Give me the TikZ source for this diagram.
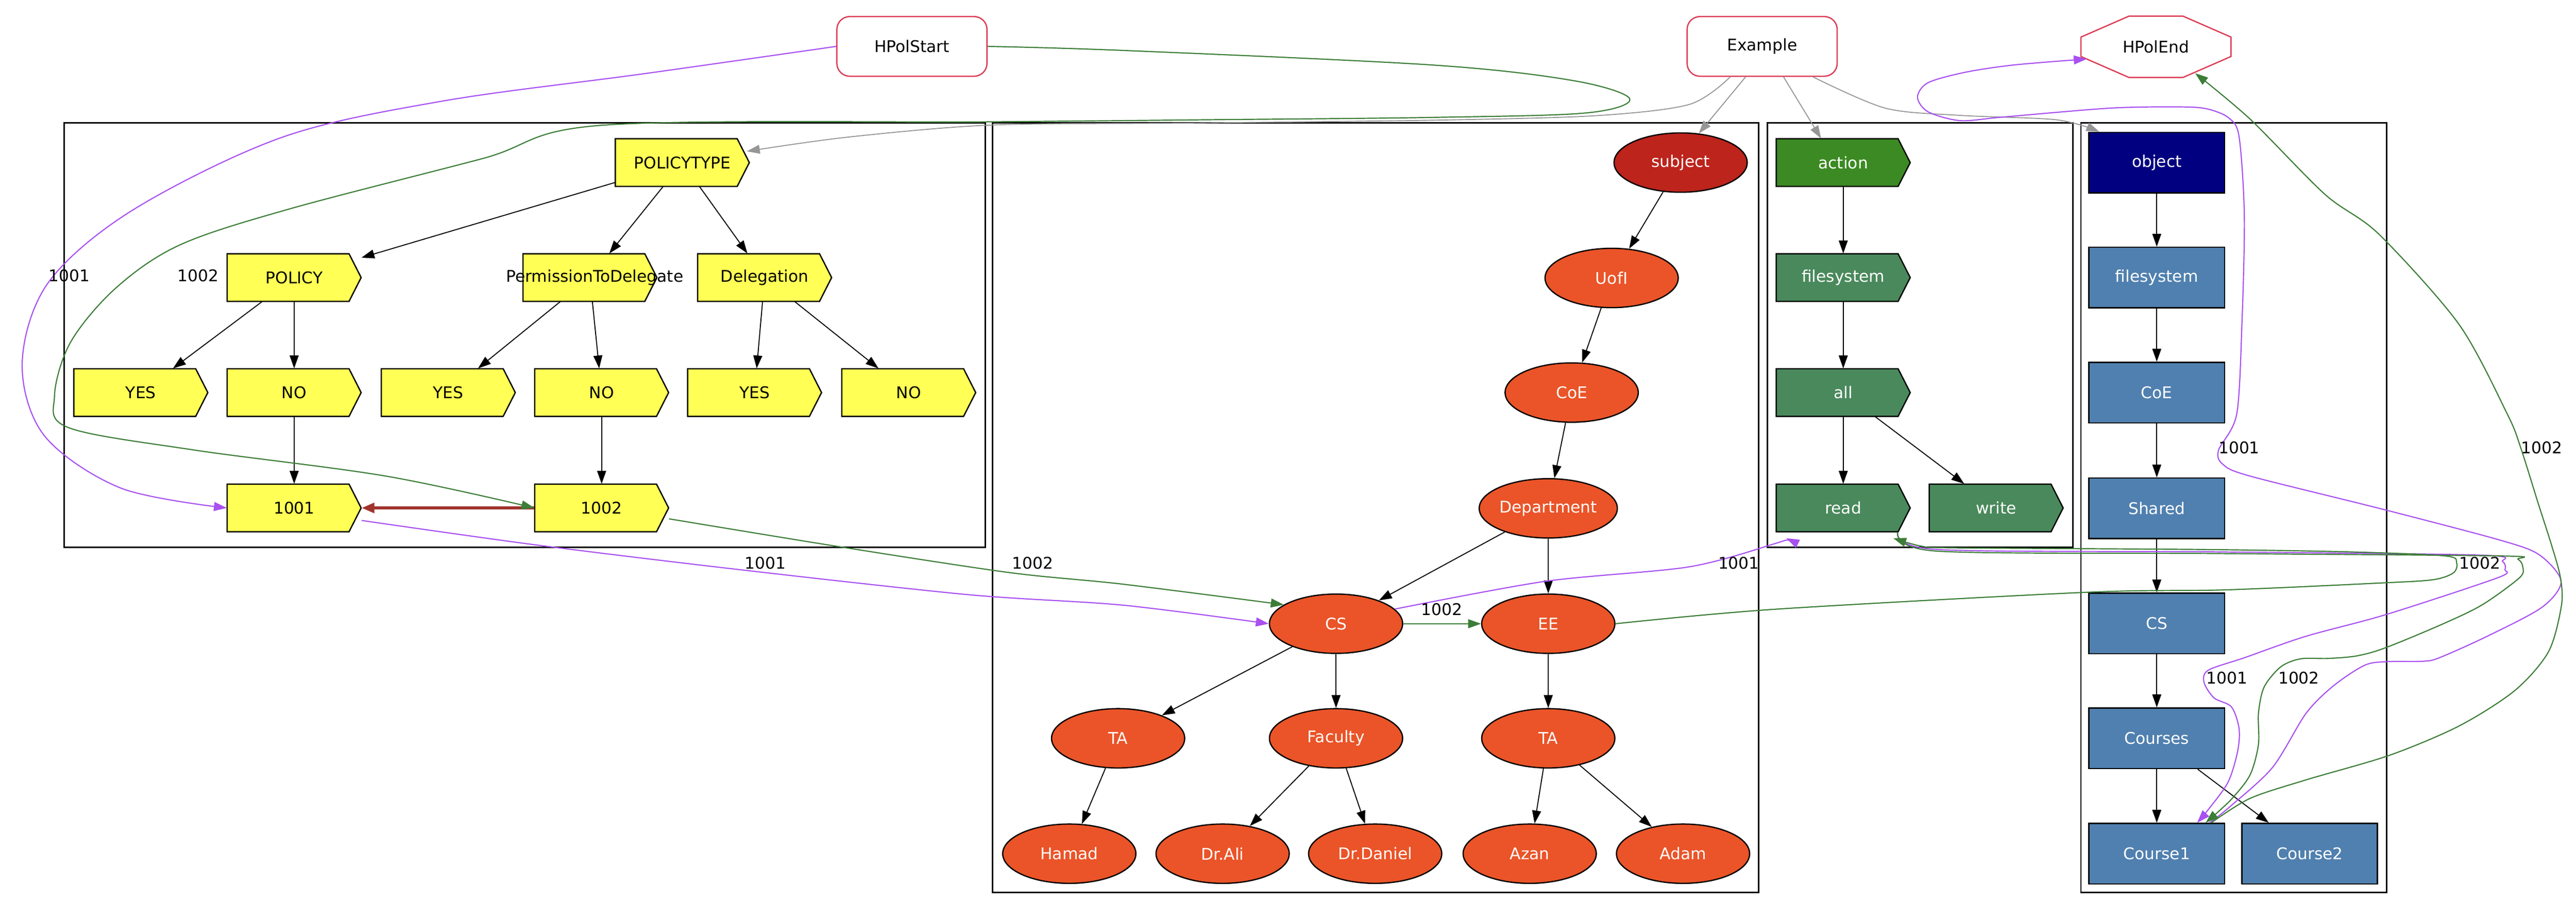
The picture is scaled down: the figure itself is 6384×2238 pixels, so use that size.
\documentclass[tikz,border=0pt]{standalone}
\usepackage{fontspec}
\setmainfont{DejaVu Sans}
\usetikzlibrary{shapes.geometric,arrows.meta}
\definecolor{ypol}{RGB}{255,255,85}
\definecolor{subj}{RGB}{188,36,28}
\definecolor{orng}{RGB}{234,84,40}
\definecolor{actg}{RGB}{60,138,35}
\definecolor{seag}{RGB}{74,137,92}
\definecolor{navyb}{RGB}{0,0,128}
\definecolor{steel}{RGB}{80,128,175}
\definecolor{pur}{RGB}{168,80,240}
\definecolor{grn}{RGB}{60,125,55}
\definecolor{brn}{RGB}{160,52,45}
\definecolor{gry}{RGB}{150,150,150}
\definecolor{crim}{RGB}{220,60,85}
\tikzset{
  cdsbox/.style={rectangle, minimum width=83pt, minimum height=29.5pt, inner sep=0pt},
  cdsline/.style={draw=black, line width=0.8pt},
  ell/.style={ellipse, minimum width=82.5pt, minimum height=36.75pt, inner sep=0pt,
    draw=black, line width=0.8pt, fill=orng, text=white},
  sell/.style={ell, fill=subj},
  bbox/.style={rectangle, minimum width=84pt, minimum height=37.5pt, inner sep=0pt,
    draw=black, line width=0.8pt, fill=steel, text=white},
  nbox/.style={bbox, fill=navyb},
  topn/.style={rectangle, rounded corners=8pt, minimum width=93pt, minimum height=37pt,
    draw=crim, line width=0.8pt, fill=white, text=black},
  endn/.style={ellipse, minimum width=93pt, minimum height=38pt, inner sep=0pt, text=black},
  clus/.style={draw=black, line width=0.9pt},
  arr/.style={draw=black, line width=0.6pt, -{Triangle[length=8pt,width=5.5pt]}},
  garr/.style={draw=gry, line width=0.6pt, -{Triangle[length=8pt,width=5.5pt]}},
  parr/.style={draw=pur, line width=0.7pt, -{Triangle[length=8pt,width=5.5pt]}},
  earr/.style={draw=grn, line width=0.7pt, -{Triangle[length=8pt,width=5.5pt]}},
  barr/.style={draw=brn, line width=2pt, -{Triangle[length=8pt,width=6pt]}},
  lbl/.style={inner sep=0pt, text=black},
}
% cds-shaped node: name, x, y, fill, text colour, text
\newcommand\cdsnode[6]{%
  \draw[cdsline, fill=#4] ({#2-166},{#3-59}) -- ({#2+136},{#3-59}) -- ({#2+166},#3)
     -- ({#2+136},{#3+59}) -- ({#2-166},{#3+59}) -- cycle;
  \node[cdsbox, text=#5] (#1) at (#2,#3) {#6};}
\begin{document}
\begin{tikzpicture}[x=0.25pt,y=-0.25pt,font=\fontsize{10}{12}\selectfont]
\useasboundingbox (0,0) rectangle (6384,2238);
% clusters
\draw[clus] (159,305) rectangle (2442,1357);
\draw[clus] (2460,305) rectangle (4358,2212);
\draw[clus] (4380,305) rectangle (5137,1357);
\draw[clus] (5157,305) rectangle (5915,2212);

% top nodes
\node[topn] (HPolStart) at (2260,115) {HPolStart};
\node[topn] (Example) at (4367,115) {Example};
\node[endn] (HPolEnd) at (5343,116) {HPolEnd};
\draw[crim, line width=0.8pt] (HPolEnd.center) ++(-67,-76) -- ++(134,0) -- ++(119,52) -- ++(0,48)
  -- ++(-119,52) -- ++(-134,0) -- ++(-119,-52) -- ++(0,-48) -- cycle;

% policy cluster
\cdsnode{ptype}{1691}{403}{ypol}{black}{POLICYTYPE}
\cdsnode{policy}{729}{688}{ypol}{black}{POLICY}
\cdsnode{ptd}{1462}{688}{ypol}{black}{\makebox[0pt]{\hspace{6pt}PermissionToDelegate}}
\cdsnode{deleg}{1895}{688}{ypol}{black}{Delegation}
\cdsnode{yes1}{349}{973}{ypol}{black}{YES}
\cdsnode{no1}{729}{973}{ypol}{black}{NO}
\cdsnode{yes2}{1111}{973}{ypol}{black}{YES}
\cdsnode{no2}{1491}{973}{ypol}{black}{NO}
\cdsnode{yes3}{1870}{973}{ypol}{black}{YES}
\cdsnode{no3}{2252}{973}{ypol}{black}{NO}
\cdsnode{p1001}{729}{1259}{ypol}{black}{1001}
\cdsnode{p1002}{1491}{1259}{ypol}{black}{1002}

% subject cluster
\node[sell] (subject) at (4165,403) {subject};
\node[ell] (uofi) at (3994,689) {UofI};
\node[ell] (scoe) at (3895,973) {CoE};
\node[ell] (dept) at (3837,1260) {Department};
\node[ell] (scs) at (3311,1546) {CS};
\node[ell] (see) at (3837,1546) {EE};
\node[ell] (ta1) at (2771,1830) {TA};
\node[ell] (fac) at (3311,1830) {Faculty};
\node[ell] (ta2) at (3837,1830) {TA};
\node[ell] (hamad) at (2650,2116) {Hamad};
\node[ell] (drali) at (3030,2116) {Dr.Ali};
\node[ell] (drdan) at (3408,2116) {Dr.Daniel};
\node[ell] (azan) at (3791,2116) {Azan};
\node[ell] (adam) at (4171,2116) {Adam};

% action cluster
\cdsnode{action}{4568}{403}{actg}{white}{action}
\cdsnode{afs}{4568}{688}{seag}{white}{filesystem}
\cdsnode{aall}{4568}{973}{seag}{white}{all}
\cdsnode{read}{4568}{1259}{seag}{white}{read}
\cdsnode{write}{4947}{1259}{seag}{white}{write}

% object cluster
\node[nbox] (object) at (5345,403) {object};
\node[bbox] (ofs) at (5345,688) {filesystem};
\node[bbox] (ocoe) at (5345,973) {CoE};
\node[bbox] (shared) at (5345,1260) {Shared};
\node[bbox] (ocs) at (5345,1545) {CS};
\node[bbox] (courses) at (5345,1830) {Courses};
\node[bbox] (course1) at (5345,2116) {Course1};
\node[bbox] (course2) at (5724,2116) {Course2};

% black tree edges
\draw[arr] (ptype) -- (policy);
\draw[arr] (ptype) -- (ptd);
\draw[arr] (ptype) -- (deleg);
\draw[arr] (policy) -- (yes1);
\draw[arr] (policy) -- (no1);
\draw[arr] (ptd) -- (yes2);
\draw[arr] (ptd) -- (no2);
\draw[arr] (deleg) -- (yes3);
\draw[arr] (deleg) -- (no3);
\draw[arr] (no1) -- (p1001);
\draw[arr] (no2) -- (p1002);
\draw[barr] (p1002.west) -- (p1001.east);

\draw[arr] (subject) -- (uofi);
\draw[arr] (uofi) -- (scoe);
\draw[arr] (scoe) -- (dept);
\draw[arr] (dept) -- (scs);
\draw[arr] (dept) -- (see);
\draw[arr] (scs) -- (ta1);
\draw[arr] (scs) -- (fac);
\draw[arr] (see) -- (ta2);
\draw[arr] (ta1) -- (hamad);
\draw[arr] (fac) -- (drali);
\draw[arr] (fac) -- (drdan);
\draw[arr] (ta2) -- (azan);
\draw[arr] (ta2) -- (adam);

\draw[arr] (action) -- (afs);
\draw[arr] (afs) -- (aall);
\draw[arr] (aall) -- (read);
\draw[arr] (aall) -- (write);

\draw[arr] (object) -- (ofs);
\draw[arr] (ofs) -- (ocoe);
\draw[arr] (ocoe) -- (shared);
\draw[arr] (shared) -- (ocs);
\draw[arr] (ocs) -- (courses);
\draw[arr] (courses) -- (course1);
\draw[arr] (courses) -- (course2);

% grey edges from Example
\draw[garr] plot[smooth, tension=0.5] coordinates {([shift={(-79,0)}]Example.south) (4186,259) (3950,287) (3548,298) (2950,305) (2455,310) (2100,340) ([shift={(160,-28)}]ptype.center)};
\draw[garr] ([shift={(-41,0)}]Example.south) -- (subject.58);
\draw[garr] ([shift={(53,0)}]Example.south) -- ([shift={(-55,0)}]action.north);
\draw[garr] plot[smooth, tension=0.5] coordinates {([shift={(126,0)}]Example.south) (4672,268) (4858,286) (5097,297) ([shift={(27,0)}]object.north west)};

% policy 1001 (purple)
\draw[parr] plot[smooth, tension=0.55] coordinates {(HPolStart.west) (1594,183) (1100,250) (700,340) (330,520) (120,700) (55,900) (110,1080) (300,1210) (p1001.west)};
\draw[parr] plot[smooth, tension=0.5] coordinates {([shift={(167,31)}]p1001.center) (1323,1350) (1833,1412) (2400,1474) (2783,1500) (scs.west)};
\draw[parr] plot[smooth, tension=0.5] coordinates {(scs.14) (3829,1441) (4186,1405) (4400,1347) ([shift={(-141,75)}]read.center)};
\draw[parr] plot[smooth, tension=0.5] coordinates {([shift={(135,60)}]read.center) (4800,1362) (5500,1368) (6150,1376) (6202,1392) (6208,1412) (6190,1432) (5914,1523) (5715,1577) (5563,1630) (5473,1661) (5462,1691) (5487,1730) (5530,1752) (5549,1806) (5545,1864) (5521,1940) (5470,2010) ([shift={(100,0)}]course1.north)};
\draw[parr] plot[smooth, tension=0.5] coordinates {([shift={(131,0)}]course1.north) (5528,1998) (5632,1902) (5715,1768) (5784,1699) (5860,1649) (5915,1640) (6005,1639) (6046,1630) (6164,1577) (6300,1505) (6347,1441) (6294,1376) (6200,1340) (5908,1263) (5576,1180) (5509,1151) (5498,1116) (5543,1027) (5556,804) (5562,536) (5549,339) (5523,292) (5470,270) (5403,265) (5230,268) (4965,290) (4858,299) (4778,277) (4752,241) (4778,205) (4871,179) (4991,161) (HPolEnd.190)};

% policy 1002 (green)
\draw[earr] plot[smooth, tension=0.55] coordinates {(HPolStart.east) (2783,125) (3548,161) (3900,200) (4039,245) (3930,280) (3548,291) (2974,297) (2455,302) (1498,310) (1196,393) (717,518) (446,607) (287,714) (175,848) (135,982) (170,1060) (478,1115) (956,1180) (p1002.west)};
\draw[earr] plot[smooth, tension=0.5] coordinates {([shift={(167,27)}]p1002.center) (2073,1354) (2500,1419) (2783,1448) (scs.160)};
\draw[earr] (scs.east) -- (see.west);
\draw[earr] plot[smooth, tension=0.5] coordinates {(see.east) (4400,1510) (5172,1468) (5517,1462) (5901,1445) (6029,1437) (6080,1420) (6088,1395) (6060,1378) (5825,1368) (5454,1362) (4846,1358) (4763,1354) ([shift={(124,75)}]read.center)};
\draw[earr] plot[smooth, tension=0.5] coordinates {([shift={(135,60)}]read.center) (4800,1366) (5500,1372) (6200,1378) (6240,1386) (6252,1405) (6244,1432) (6150,1500) (6046,1550) (5908,1607) (5839,1626) (5770,1632) (5701,1633) (5652,1653) (5611,1703) (5597,1768) (5597,1845) (5576,1921) (5528,1983) ([shift={(121,0)}]course1.north)};
\draw[earr] plot[smooth, tension=0.5] coordinates {([shift={(135,0)}]course1.north) (5576,1979) (5715,1933) (5922,1872) (6095,1799) (6233,1711) (6316,1615) (6348,1500) (6345,1430) (6323,1350) (6291,1250) (6247,1110) (6214,1027) (6094,804) (5895,580) (5762,482) (5576,295) (HPolEnd.-34)};

% edge labels
\node[lbl] (l1) at (172,683) {1001};
\node[lbl] (l2) at (491,683) {1002};
\node[lbl] (l3) at (1897,1396) {1001};
\node[lbl] (l4) at (2559,1396) {1002};
\node[lbl] (l5) at (3573,1510) {1002};
\node[lbl] (l6) at (4309,1396) {1001};
\node[lbl] (l7) at (6146,1396) {1002};
\node[lbl] (l8) at (5519,1681) {1001};
\node[lbl] (l9) at (5697,1681) {1002};
\node[lbl] (l10) at (5549,1110) {1001};
\node[lbl] (l11) at (6299,1110) {1002};
\end{tikzpicture}
\end{document}
